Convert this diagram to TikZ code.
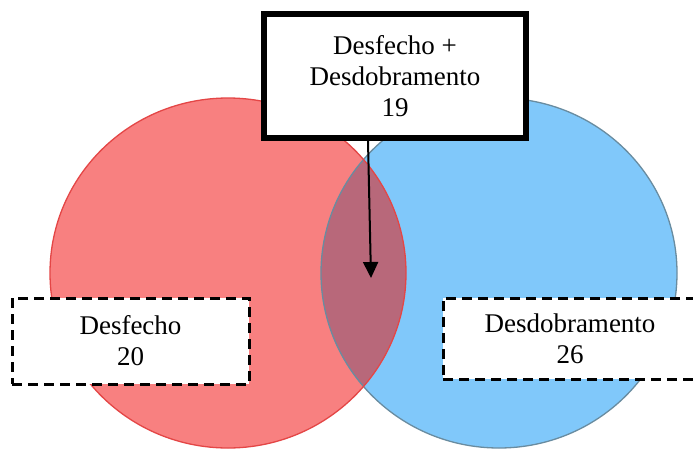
\documentclass[tikz,border=0pt]{standalone}
\usepackage{fontspec}
\setmainfont{Liberation Serif}
\usetikzlibrary{arrows.meta}
\definecolor{redfill}{RGB}{248,128,128}
\definecolor{redline}{RGB}{228,70,70}
\definecolor{bluefill}{RGB}{128,200,250}
\definecolor{blueline}{RGB}{105,140,160}
\definecolor{lensfill}{RGB}{184,104,122}
\tikzset{
  labeltext/.style={font=\fontsize{27}{31}\selectfont, align=center, inner sep=0pt},
  topbox/.style={labeltext, draw=black, line width=6pt, fill=white},
  dashbox/.style={labeltext, draw=black, line width=3pt, fill=white, dash pattern=on 10pt off 6pt},
}
\begin{document}
\begin{tikzpicture}[x=1pt,y=-1pt]
\useasboundingbox (0,0) rectangle (693,450);
\clip (0,0) rectangle (693,450);
\fill[white] (0,0) rectangle (693,450);
% circles
\fill[redfill] (228,273) ellipse [x radius=178, y radius=175];
\fill[bluefill] (499,273) ellipse [x radius=178, y radius=175];
\begin{scope}
  \clip (228,273) ellipse [x radius=178, y radius=175];
  \fill[lensfill] (499,273) ellipse [x radius=178, y radius=175];
\end{scope}
\draw[blueline, line width=1.3pt] (499,273) ellipse [x radius=178, y radius=175];
\draw[redline, line width=1.3pt] (228,273) ellipse [x radius=178, y radius=175];
% boxes
\node[topbox, minimum width=262pt, minimum height=124pt] (top) at (395,76)
  {Desfecho +\\Desdobramento\\19};
\node[dashbox, minimum width=237pt, minimum height=86pt] (left) at (130.5,341)
  {Desfecho\\20};
\node[dashbox, minimum width=254pt, minimum height=81pt] (right) at (570,338.5)
  {Desdobramento\\26};
% arrow
\coordinate (tip) at (371,278);
\draw[line width=2pt, -{Triangle[length=16pt, width=15pt]}] (top.south -| 368,0) -- (tip);
\end{tikzpicture}
\end{document}
